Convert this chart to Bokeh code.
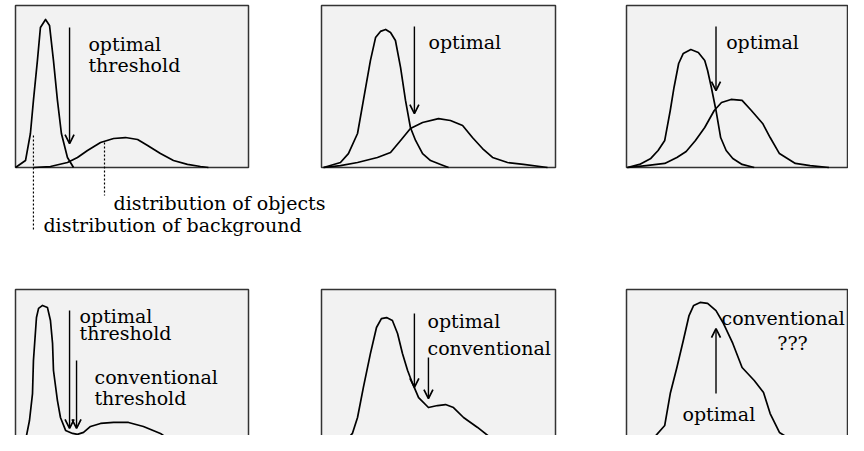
from bokeh.plotting import figure
from bokeh.models import Range1d, Arrow, OpenHead
from bokeh.core.properties import value
from bokeh.embed import file_html
from bokeh.resources import INLINE

# ---------------- data (gray level 0-100, relative frequency 0-100) ----------------
# Panel 1: well separated background / objects
p1_bg_x = [0, 4.3, 6.4, 7.7, 9.4, 10.7, 12.9, 14.6, 16.3, 18.0, 19.7, 22.3, 24.9]
p1_bg_y = [0, 4.3, 21.0, 41.4, 66.0, 86.4, 91.4, 87.7, 66.0, 41.4, 21.0, 6.2, 0]
p1_obj_x = [7.7, 15.0, 22.3, 26.6, 30.9, 36.5, 42.1, 47.2, 52.4, 56.7, 62.2, 67.8, 73.8, 79.4, 82.8]
p1_obj_y = [0, 0.6, 3.1, 6.2, 10.5, 15.4, 17.9, 18.5, 17.3, 13.6, 8.6, 4.3, 1.9, 0.6, 0]

# Panel 2: overlapping
p2_bg_x = [0.9, 8.1, 11.5, 15.4, 17.9, 20.9, 23.1, 25.2, 27.4, 29.5, 31.6, 33.8, 35.9, 38.0, 40.2, 43.2, 46.6, 50.9, 54.3]
p2_bg_y = [0, 3.1, 8.6, 21.0, 41.4, 66.0, 80.2, 84.0, 85.2, 83.3, 78.4, 61.7, 41.4, 24.7, 16.7, 8.6, 4.3, 1.9, 0]
p2_obj_x = [0.9, 8.1, 15.4, 23.9, 29.5, 33.8, 38.0, 43.2, 50.0, 55.1, 60.3, 64.5, 68.8, 73.1, 79.5, 86.3, 96.6]
p2_obj_y = [0, 1.2, 3.1, 6.2, 9.3, 16.7, 24.1, 27.8, 30.2, 29.0, 25.9, 18.5, 11.7, 6.2, 3.1, 1.9, 0]

# Panel 3: strongly overlapping
p3_bg_x = [0.4, 5.9, 11.0, 14.3, 17.3, 19.8, 21.5, 23.6, 25.7, 29.1, 32.5, 35.4, 36.7, 38.4, 40.5, 42.6, 45.1, 48.1, 52.3, 57.8]
p3_bg_y = [0, 1.9, 5.6, 10.5, 16.7, 35.2, 49.4, 64.2, 70.4, 72.8, 71.0, 66.0, 59.9, 49.4, 35.2, 18.5, 10.5, 5.6, 1.9, 0]
p3_obj_x = [0.4, 8.9, 17.3, 22.8, 27.0, 31.2, 35.4, 39.7, 43.0, 47.3, 52.3, 56.5, 61.6, 65.0, 69.2, 76.4, 83.1, 91.6]
p3_obj_y = [0, 1.2, 2.5, 6.2, 9.9, 16.7, 24.7, 35.2, 40.1, 42.0, 41.4, 35.2, 27.2, 18.5, 8.6, 2.5, 1.2, 0]

# Panels 4-6: observed (summed) histograms
p4_x = [0.4, 4.3, 6.0, 7.3, 7.7, 9.0, 9.9, 11.6, 13.7, 15.0, 15.9, 16.3, 18.0, 19.3, 21.5, 24.5, 26.6,
        29.2, 32.2, 36.5, 42.1, 48.5, 54.9, 62.2, 67.8, 73.0, 77.3]
p4_y = [3.0, 9.0, 21.1, 37.3, 57.2, 83.1, 88.6, 90.4, 89.2, 81.3, 67.5, 51.2, 33.1, 22.9, 15.1, 13.3, 12.7,
        13.9, 17.5, 19.3, 19.9, 19.9, 17.5, 13.3, 7.8, 2.4, -1.8]
p5_x = [0.9, 9.4, 13.2, 15.4, 17.9, 20.9, 23.5, 25.6, 27.8, 30.3, 32.5, 34.6, 36.8, 38.9, 41.5, 45.7, 49.6,
        53.0, 56.4, 60.7, 66.7, 72.2, 79.5, 89.3, 95.7]
p5_y = [3.0, 7.2, 13.3, 22.9, 41.0, 61.4, 77.1, 82.5, 83.1, 81.3, 73.5, 61.4, 51.2, 43.4, 34.9, 28.9, 30.1,
        30.7, 28.9, 22.9, 16.9, 10.8, 7.2, 3.0, 1.2]
p6_x = [0.4, 10.1, 17.3, 19.8, 22.8, 25.7, 28.3, 30.4, 33.3, 36.7, 40.5, 43.9, 48.1, 52.3, 57.8, 62.0,
        65.0, 69.2, 76.4, 84.8, 90.3, 96.6]
p6_y = [3.0, 7.2, 18.1, 37.3, 53.0, 69.3, 84.3, 90.4, 92.2, 91.6, 87.3, 79.5, 67.5, 53.0, 45.2, 38.0,
        25.3, 13.9, 7.8, 4.8, 3.0, 0.6]

# Threshold arrows: gray level, start height, end height
p1_arrows = ([23.2], [86.4], [14.8])
p2_arrows = ([39.7], [87.0], [33.3])
p3_arrows = ([40.5], [87.0], [47.5])
p4_arrows = ([23.2, 26.2], [87.3, 57.2], [16.3, 16.3])
p5_arrows = ([39.7, 45.7], [85.5, 59.0], [41.0, 34.3])
p6_arrows = ([40.5], [37.3], [76.5])

# Labels: text, gray level, baseline height, alignment
p1_labels = (["optimal", "threshold"], [31.3, 31.3], [76.5, 63.0], ["left", "left"])
p2_labels = (["optimal"], [45.7], [77.2], ["left"])
p3_labels = (["optimal"], [45.1], [77.2], ["left"])
p4_labels = (["optimal", "threshold", "conventional", "threshold"], [27.5, 27.5, 33.9, 33.9],
             [84.3, 73.5, 47.0, 34.9], ["left"] * 4)
p5_labels = (["optimal", "conventional"], [45.3, 45.3], [81.3, 64.5], ["left", "left"])
p6_labels = (["conventional", "???", "optimal"], [43.0, 75.1, 41.8], [83.1, 67.5, 24.7],
             ["left", "center", "center"])

# Leader lines of panel 1 and their captions
lead_x = [7.7, 38.2]
lead_top = [19.8, 15.4]
lead_bottom = [-38.9, -17.3]
caption_text = ["distribution of objects", "distribution of background"]
caption_x = [42.1, 12.0]
caption_y = [-22.2, -35.8]

# ---------------- layout ----------------
W, H = 848, 435
FX0, FY0 = 0, 0
ROWS = [(5, 167), (289, 455)]
COLS = [(15, 248), (321, 555), (626, 847)]

BG = "#f2f2f2"
EDGE = "#333333"
FONT = value("DejaVu Serif")
FS = "19px"

p = figure(width=W, height=H, x_range=Range1d(0, 1), y_range=Range1d(0, 1),
           output_backend="svg", toolbar_location=None, min_border=0,
           x_axis_location=None, y_axis_location=None)
p.grid.visible = False
p.outline_line_color = None
p.background_fill_color = "white"
p.border_fill_color = "white"


def panel(name, col, row):
    L, R = COLS[col]
    T, B = ROWS[row]
    sx = 100.0 / (R - L)
    sy = 100.0 / (B - T)
    p.extra_x_ranges[name + "x"] = Range1d(-(L - FX0) * sx, 100 + (FX0 + W - R) * sx)
    p.extra_y_ranges[name + "y"] = Range1d((B - (FY0 + H)) * sy, 100 + (T - FY0) * sy)
    kw = dict(x_range_name=name + "x", y_range_name=name + "y")
    p.quad(left=[0], right=[100], bottom=[0], top=[100], fill_color=BG,
           line_color=EDGE, line_width=1.5, **kw)
    return kw


def curve(kw, xs, ys):
    p.line(xs, ys, line_color="black", line_width=1.7, line_join="round", **kw)


def arrows(kw, data):
    xs, y0, y1 = data
    for x, a, b in zip(xs, y0, y1):
        p.add_layout(Arrow(end=OpenHead(size=9, line_width=1.7, line_color="black"),
                           x_start=x, y_start=a, x_end=x, y_end=b,
                           line_width=1.4, line_color="black", **kw))


def labels(kw, data):
    t, xs, ys, al = data
    p.text(x=xs, y=ys, text=t, text_align=al, text_baseline="alphabetic",
           text_font=FONT, text_font_size=FS, text_color="black", **kw)


panels = [
    ("p1", 0, 0, [(p1_bg_x, p1_bg_y), (p1_obj_x, p1_obj_y)], p1_arrows, p1_labels),
    ("p2", 1, 0, [(p2_bg_x, p2_bg_y), (p2_obj_x, p2_obj_y)], p2_arrows, p2_labels),
    ("p3", 2, 0, [(p3_bg_x, p3_bg_y), (p3_obj_x, p3_obj_y)], p3_arrows, p3_labels),
    ("p4", 0, 1, [(p4_x, p4_y)], p4_arrows, p4_labels),
    ("p5", 1, 1, [(p5_x, p5_y)], p5_arrows, p5_labels),
    ("p6", 2, 1, [(p6_x, p6_y)], p6_arrows, p6_labels),
]

kw1 = None
for name, c, r, curves, arr, lab in panels:
    kw = panel(name, c, r)
    if kw1 is None:
        kw1 = kw
    for xs, ys in curves:
        curve(kw, xs, ys)
    arrows(kw, arr)
    labels(kw, lab)

# leader lines and captions below panel 1
p.segment(x0=lead_x, y0=lead_top, x1=lead_x, y1=lead_bottom, line_color="black",
          line_width=1.2, line_dash="2 2", **kw1)
p.text(x=caption_x, y=caption_y, text=caption_text, text_align="left",
       text_baseline="alphabetic", text_font=FONT, text_font_size=FS,
       text_color="black", **kw1)

open("out.html", "w").write(file_html(p, INLINE))
